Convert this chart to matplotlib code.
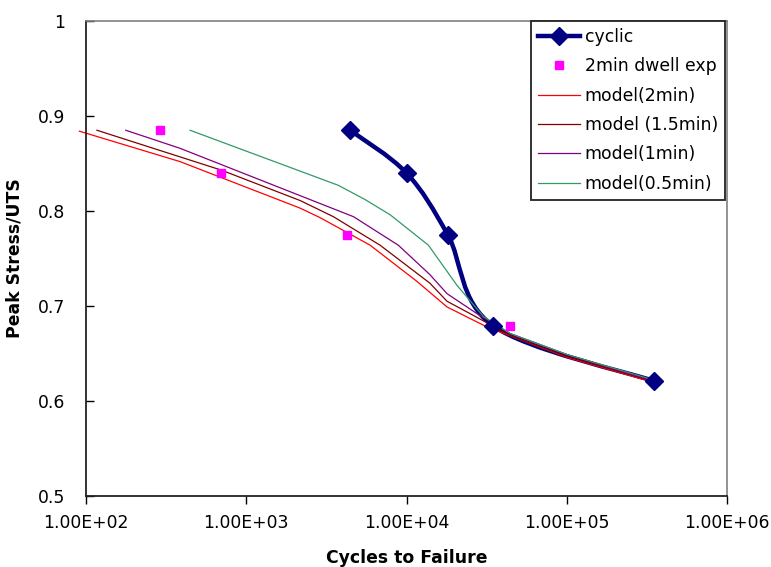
import numpy as np
import matplotlib
matplotlib.use('Agg')
import matplotlib.pyplot as plt
from matplotlib.path import Path
from matplotlib.patches import PathPatch
from matplotlib.lines import Line2D

# cyclic fatigue tests
cyclic_n = [4450, 10000, 18100, 34800, 351000]
cyclic_s = [0.885, 0.840, 0.775, 0.679, 0.621]

# 2 min dwell experiments
dwell_n = [290, 700, 4280, 44400]
dwell_s = [0.885, 0.840, 0.775, 0.679]

# model predictions for different dwell times
model_2min_n = [91, 386, 2170, 2890, 5930, 11600, 17900, 31700, 100000, 340000]
model_2min_s = [0.884, 0.852, 0.803, 0.793, 0.764, 0.726, 0.699, 0.678, 0.646, 0.620]

model_15min_n = [117, 700, 2170, 3500, 6840, 14000, 17900, 24900, 44400, 100000, 345000]
model_15min_s = [0.885, 0.843, 0.811, 0.794, 0.764, 0.724, 0.705, 0.692, 0.669, 0.647, 0.621]

model_1min_n = [177, 386, 4670, 8890, 14000, 17900, 27500, 44400, 100000, 346000]
model_1min_s = [0.885, 0.866, 0.794, 0.764, 0.733, 0.713, 0.692, 0.671, 0.649, 0.621]

model_05min_n = [446, 3760, 5520, 7910, 13700, 20600, 30200, 44400, 100000, 351000]
model_05min_s = [0.885, 0.827, 0.812, 0.796, 0.764, 0.722, 0.689, 0.671, 0.649, 0.622]

xticks = [1e2, 1e3, 1e4, 1e5, 1e6]
xtick_labels = ['1.00E+02', '1.00E+03', '1.00E+04', '1.00E+05', '1.00E+06']
yticks = [0.5, 0.6, 0.7, 0.8, 0.9, 1.0]
ytick_labels = ['0.5', '0.6', '0.7', '0.8', '0.9', '1']

NAVY = '#000080'


def smooth_path(x, y):
    # Catmull-Rom style bezier through the points, built in log10(x) space
    pts = np.column_stack([np.log10(x), y])
    ext = np.vstack([pts[0], pts, pts[-1]])
    verts = [pts[0]]
    codes = [Path.MOVETO]
    for i in range(len(pts) - 1):
        p0, p1, p2, p3 = ext[i], ext[i + 1], ext[i + 2], ext[i + 3]
        verts += [p1 + (p2 - p0) / 6.0, p2 - (p3 - p1) / 6.0, p2]
        codes += [Path.CURVE4] * 3
    verts = np.array(verts)
    verts[:, 0] = 10 ** verts[:, 0]
    return Path(verts, codes)


plt.rcParams['font.family'] = 'DejaVu Sans'
fs = 12.4

fig = plt.figure(figsize=(7.71, 5.67), dpi=100)
ax = fig.add_axes([86 / 771, 1 - 496 / 567, (727 - 86) / 771, (496 - 21) / 567])
ax.set_xscale('log')

ax.add_patch(PathPatch(smooth_path(cyclic_n, cyclic_s), fill=False,
                       edgecolor=NAVY, lw=3.2, zorder=2))
ax.plot(cyclic_n, cyclic_s, 'D', color=NAVY, ms=9, ls='none', zorder=3)

ax.plot(dwell_n, dwell_s, 's', color='#FF00FF', ms=6, ls='none', zorder=3)

models = [
    (model_2min_n, model_2min_s, '#FF0000', 'model(2min)'),
    (model_15min_n, model_15min_s, '#800000', 'model (1.5min)'),
    (model_1min_n, model_1min_s, '#800080', 'model(1min)'),
    (model_05min_n, model_05min_s, '#339966', 'model(0.5min)'),
]
for n, s, c, lab in models:
    ax.plot(n, s, color=c, lw=0.9, clip_on=False, zorder=2.5)

ax.set_xlim(1e2, 1e6)
ax.set_ylim(0.5, 1.0)
ax.set_xticks(xticks)
ax.set_xticklabels(xtick_labels)
ax.set_yticks(yticks)
ax.set_yticklabels(ytick_labels)
ax.minorticks_off()
ax.tick_params(axis='x', direction='out', length=6, width=1, labelsize=fs, pad=7)
ax.tick_params(axis='y', direction='in', length=6, width=1, labelsize=fs, pad=15)

for side in ['left', 'bottom']:
    ax.spines[side].set_color('#222222')
    ax.spines[side].set_linewidth(1.3)
for side in ['top', 'right']:
    ax.spines[side].set_color('#808080')
    ax.spines[side].set_linewidth(1.2)

ax.set_xlabel('Cycles to Failure', fontsize=fs, fontweight='bold', labelpad=12)
ax.set_ylabel('Peak Stress/UTS', fontsize=fs, fontweight='bold', labelpad=10)

handles = [
    Line2D([], [], color=NAVY, lw=3.2, marker='D', ms=9),
    Line2D([], [], color='#FF00FF', marker='s', ms=6, ls='none'),
] + [Line2D([], [], color=c, lw=0.9) for _, _, c, _ in models]
labels = ['cyclic', '2min dwell exp'] + [m[3] for m in models]

leg = ax.legend(handles, labels, loc='upper right',
                bbox_to_anchor=(725 / 771, 1 - 21 / 567),
                bbox_transform=fig.transFigure, borderaxespad=0,
                fontsize=fs, numpoints=1, handlelength=2.4,
                handletextpad=0.3, labelspacing=0.66, borderpad=0.4,
                fancybox=False, framealpha=1, edgecolor='#222222')
leg.get_frame().set_linewidth(1.3)

fig.savefig('out.png', dpi=100)
